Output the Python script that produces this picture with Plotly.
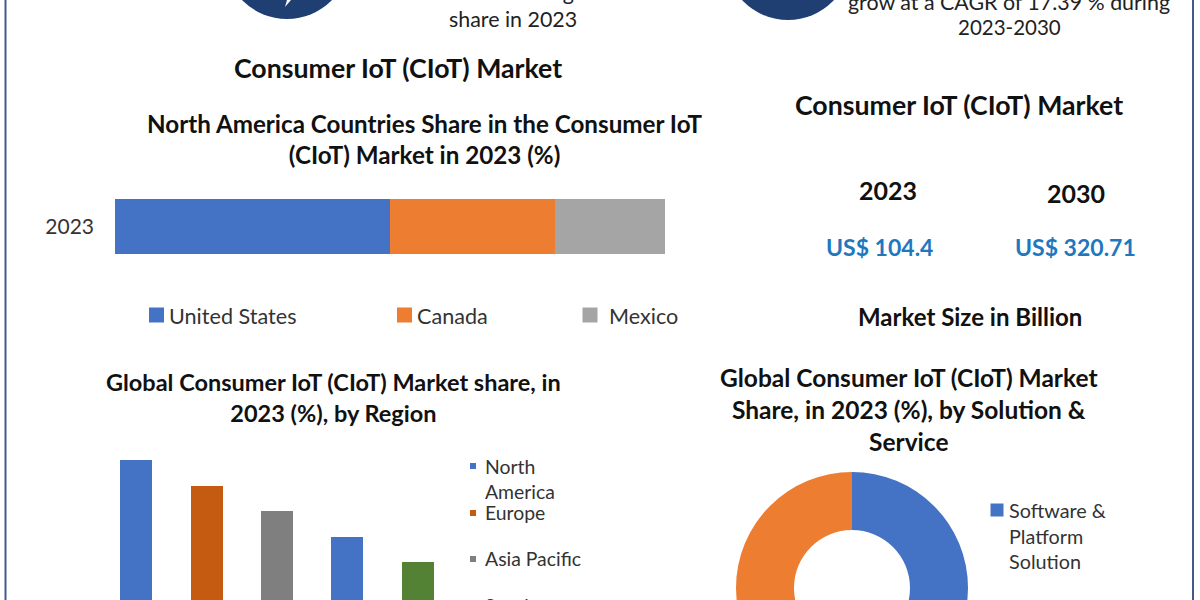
import plotly.graph_objects as go

W, H = 1200, 720  # the page window shows only the top 600 px, as in the reference

# --- data ---
stack_year = ["2023"]
countries = ["United States", "Canada", "Mexico"]
country_shares = [50, 30, 20]
country_colors = ["#4472C4", "#ED7D31", "#A5A5A5"]

regions = ["North<br>America", "Europe", "Asia Pacific", "South<br>America", "MEA"]
region_shares = [35, 30, 25, 20, 15]
region_colors = ["#4472C4", "#C55A11", "#7F7F7F", "#4472C4", "#548235"]

solutions = ["Software &<br>Platform<br>Solution", "Service"]
solution_shares = [50, 50]
solution_colors = ["#4472C4", "#ED7D31"]

size_years = ["2023", "2030"]
size_values = ["US$ 104.4", "US$ 320.71"]

INK = "#111111"
FONT = "Lato"


def px(x):
    return x / W


def py(y):
    return 1 - y / H


fig = go.Figure()

for name, val, col in zip(countries, country_shares, country_colors):
    fig.add_trace(go.Bar(x=[val], y=stack_year, name=name, orientation="h",
                         marker=dict(color=col, line=dict(width=0)),
                         xaxis="x", yaxis="y", showlegend=False))

fig.add_trace(go.Bar(x=regions, y=region_shares, marker=dict(color=region_colors, line=dict(width=0)),
                     xaxis="x2", yaxis="y2", showlegend=False))

fig.add_trace(go.Pie(labels=solutions, values=solution_shares, hole=0.5, sort=False,
                     direction="clockwise", rotation=0,
                     marker=dict(colors=solution_colors, line=dict(width=0)),
                     textinfo="none", showlegend=False,
                     domain=dict(x=[px(852 - 116), px(852 + 116)],
                                 y=[py(588 + 116), py(588 - 116)])))


def note(text, x, y, size, bold=False, color=INK, align="center", xanchor="center"):
    label = f"<b>{text}</b>" if bold else text
    return dict(text=label, x=px(x), y=py(y), xref="paper", yref="paper",
                xanchor=xanchor, yanchor="middle", align=align, showarrow=False,
                font=dict(family=FONT, size=size, color=color))


annotations = [
    note("North America held largest market", 512, -8, 21.4, color="#222222"),
    note("share in 2023", 512.5, 19, 21.4, color="#222222"),
    note("Consumer IoT (CIoT) Market is expected to", 1009, -24, 21.4, color="#222222"),
    note("grow at a CAGR of 17.39 % during", 1009, 2, 21.4, color="#222222"),
    note("2023-2030", 1009, 27.5, 20.5, color="#222222"),
    note("Consumer IoT (CIoT) Market", 398, 68, 26.7, True),
    note("Consumer IoT (CIoT) Market", 958.5, 105, 26.7, True),
    note("North America Countries Share in the Consumer IoT<br>(CIoT) Market in 2023 (%)", 425, 139.5, 24.2, True),
    note("Global Consumer IoT (CIoT) Market share, in<br>2023 (%), by Region", 333.5, 397.5, 23.5, True),
    note("Market Size in Billion", 970, 316, 24, True),
    note("Global Consumer IoT (CIoT) Market<br>Share, in 2023 (%), by Solution &<br>Service", 908.5, 409.5, 24.5, True),
    note(size_years[0], 888, 190, 25, True),
    note(size_years[1], 1076, 193, 25, True),
    note(size_values[0], 880, 247, 23, True, color="#1F78BE"),
    note(size_values[1], 1075, 247, 23, True, color="#1F78BE"),
]

shapes = [
    dict(type="circle", xref="paper", yref="paper", x0=px(cx - 63), x1=px(cx + 63),
         y0=py(cy + 63), y1=py(cy - 63), fillcolor="#1F3F73", line=dict(width=0))
    for cx, cy in [(287, -44), (788, -43)]
]
shapes += [
    dict(type="line", xref="paper", yref="paper", x0=px(5.5), x1=px(5.5), y0=py(0), y1=py(600),
         line=dict(color="#42598C", width=2)),
    dict(type="line", xref="paper", yref="paper", x0=px(1193), x1=px(1193), y0=py(0), y1=py(600),
         line=dict(color="#42598C", width=2)),
    dict(type="path", xref="paper", yref="paper",
         path=f"M{px(291)},{py(0)} L{px(285)},{py(7)} L{px(287)},{py(0)} Z",
         fillcolor="white", line=dict(width=0)),
]


def swatch(x, y, s, color):
    return dict(type="rect", xref="paper", yref="paper", x0=px(x - s / 2), x1=px(x + s / 2),
                y0=py(y + s / 2), y1=py(y - s / 2), fillcolor=color, line=dict(width=0))


# hand-placed legends (the reference spacing is irregular)
for name, col, sx, tx in zip(countries, country_colors, [156.5, 404.5, 590], [167, 415, 607]):
    shapes.append(swatch(sx, 315, 15, col))
    annotations.append(note(name, tx, 315.5, 21.6, color="#333333", xanchor="left", align="left"))

legend_rows = [(regions[0], region_colors[0], 466, 479), (regions[1], region_colors[1], 513, 512),
               (regions[2], region_colors[2], 559, 558), (regions[3], region_colors[3], 607, 618)]
for name, col, sy, ty in legend_rows:
    shapes.append(swatch(473, sy, 6, col))
    annotations.append(note(name, 483, ty, 19.4, color="#333333", xanchor="left", align="left"))

shapes.append(swatch(997, 510, 13, solution_colors[0]))
annotations.append(note(solutions[0], 1007, 535, 19.8, color="#333333", xanchor="left", align="left"))

fig.update_layout(
    width=W, height=H, autosize=False,
    margin=dict(l=0, r=0, t=0, b=0, pad=0),
    paper_bgcolor="white", plot_bgcolor="white",
    barmode="stack", bargap=0,
    font=dict(family=FONT, color=INK),
    annotations=annotations, shapes=shapes,
    xaxis=dict(domain=[px(115), px(665)], range=[0, 100], visible=False, fixedrange=True),
    yaxis=dict(domain=[py(254), py(199)], anchor="x", type="category", showgrid=False,
               showline=False, zeroline=False, ticks="", ticklabelstandoff=20,
               tickfont=dict(family=FONT, size=21, color="#333333")),
    xaxis2=dict(domain=[px(100.8), px(452.7)], anchor="y2", visible=False, type="category"),
    yaxis2=dict(domain=[py(638.5), py(460)], anchor="x2", range=[0, 35], visible=False),
)
fig.data[3].update(width=0.455)

fig.write_html("out.html", include_plotlyjs=True,
               config=dict(displayModeBar=False),
               post_script="document.body.style.margin='0';document.documentElement.style.overflow='hidden';document.body.style.overflow='hidden';")
